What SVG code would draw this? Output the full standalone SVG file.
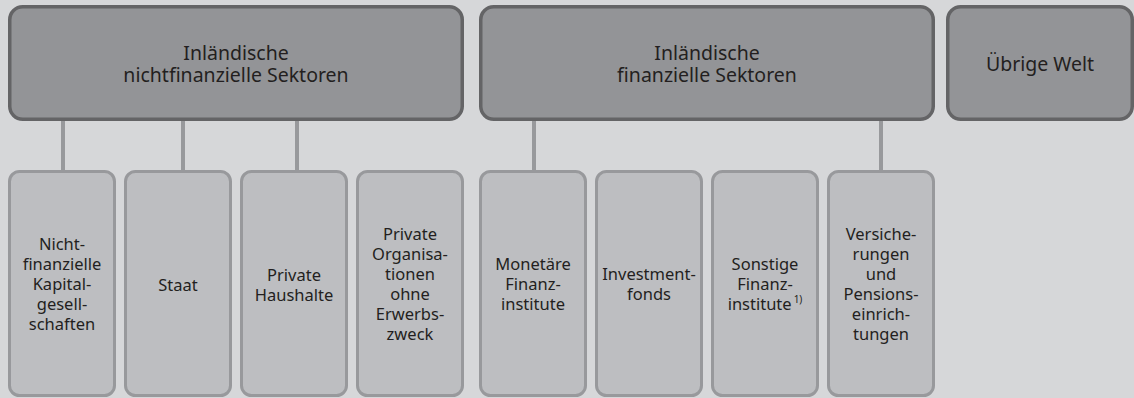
<svg xmlns="http://www.w3.org/2000/svg" width="1134" height="398" viewBox="0 0 1134 398">
<style>
.bg{fill:#d6d7d9}
.big{fill:#939497;stroke:#646466;stroke-width:3.5}
.small{fill:#bdbec1;stroke:#98999c;stroke-width:3}
.conn{stroke:#98999c;stroke-width:4;fill:none}
text{font-family:"Noto Sans","Open Sans","Liberation Sans",sans-serif;fill:#231f20;text-anchor:middle}
.t1{font-size:19.5px}
.t2{font-size:16.5px}
.sup{font-size:10px}
</style>
<rect class="bg" x="0" y="0" width="1134" height="398"/>
<g id="connectors">
<line class="conn" x1="63" y1="120" x2="63" y2="171"/>
<line class="conn" x1="183" y1="120" x2="183" y2="171"/>
<line class="conn" x1="297" y1="120" x2="297" y2="171"/>
<line class="conn" x1="534" y1="120" x2="534" y2="171"/>
<line class="conn" x1="881" y1="120" x2="881" y2="171"/>
</g>
<g id="nichtfinanzielle">
<rect class="big" x="9.75" y="6.75" width="452.5" height="112.5" rx="13"/>
<text class="t1"><tspan x="236" y="60">Inländische</tspan><tspan x="236" y="82">nichtfinanzielle Sektoren</tspan></text>
</g>
<g id="finanzielle">
<rect class="big" x="480.75" y="6.75" width="452.5" height="112.5" rx="13"/>
<text class="t1"><tspan x="707" y="60">Inländische</tspan><tspan x="707" y="82">finanzielle Sektoren</tspan></text>
</g>
<g id="uebrige">
<rect class="big" x="947.75" y="6.75" width="184.5" height="112.5" rx="13"/>
<text class="t1" x="1040" y="71">Übrige Welt</text>
</g>
<g id="kapitalgesellschaften">
<rect class="small" x="9.5" y="171.5" width="105" height="224" rx="10"/>
<text class="t2"><tspan x="62" y="250">Nicht-</tspan><tspan x="62" y="270">finanzielle</tspan><tspan x="62" y="290">Kapital-</tspan><tspan x="62" y="310">gesell-</tspan><tspan x="62" y="330">schaften</tspan></text>
</g>
<g id="staat">
<rect class="small" x="125.5" y="171.5" width="105" height="224" rx="10"/>
<text class="t2" x="178" y="291">Staat</text>
</g>
<g id="haushalte">
<rect class="small" x="241.5" y="171.5" width="105" height="224" rx="10"/>
<text class="t2"><tspan x="294" y="281">Private</tspan><tspan x="294" y="301">Haushalte</tspan></text>
</g>
<g id="organisationen">
<rect class="small" x="357.5" y="171.5" width="105" height="224" rx="10"/>
<text class="t2"><tspan x="410" y="240">Private</tspan><tspan x="410" y="260">Organisa-</tspan><tspan x="410" y="280">tionen</tspan><tspan x="410" y="300">ohne</tspan><tspan x="410" y="320">Erwerbs-</tspan><tspan x="410" y="340">zweck</tspan></text>
</g>
<g id="monetaere">
<rect class="small" x="480.5" y="171.5" width="105" height="224" rx="10"/>
<text class="t2"><tspan x="533" y="270">Monetäre</tspan><tspan x="533" y="290">Finanz-</tspan><tspan x="533" y="310">institute</tspan></text>
</g>
<g id="investmentfonds">
<rect class="small" x="596.5" y="171.5" width="105" height="224" rx="10"/>
<text class="t2"><tspan x="649" y="280">Investment-</tspan><tspan x="649" y="300">fonds</tspan></text>
</g>
<g id="sonstige">
<rect class="small" x="712.5" y="171.5" width="105" height="224" rx="10"/>
<text class="t2"><tspan x="765" y="270">Sonstige</tspan><tspan x="765" y="290">Finanz-</tspan><tspan x="765" y="310">institute<tspan class="sup" dx="2" dy="-7">1)</tspan></tspan></text>
</g>
<g id="versicherungen">
<rect class="small" x="828.5" y="171.5" width="105" height="224" rx="10"/>
<text class="t2"><tspan x="881" y="240">Versiche-</tspan><tspan x="881" y="260">rungen</tspan><tspan x="881" y="280">und</tspan><tspan x="881" y="300">Pensions-</tspan><tspan x="881" y="320">einrich-</tspan><tspan x="881" y="340">tungen</tspan></text>
</g>
</svg>
